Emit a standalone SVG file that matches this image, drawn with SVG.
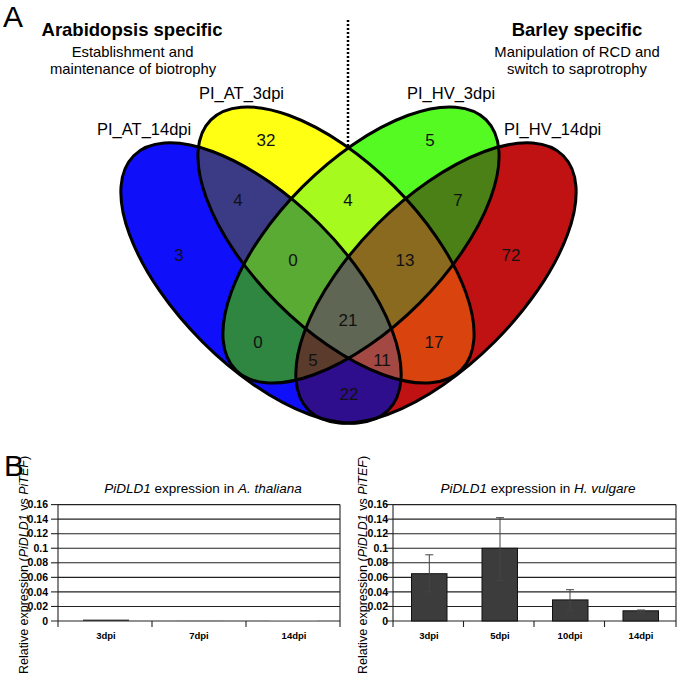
<svg xmlns="http://www.w3.org/2000/svg" xmlns:xlink="http://www.w3.org/1999/xlink" width="678" height="674" viewBox="0 0 678 674">
<style>
text{font-family:"Liberation Sans",Arial,sans-serif;fill:#000}
.big{font-size:30px}
.hd{font-size:18.5px;font-weight:bold;text-anchor:middle}
.sub{font-size:14.8px;text-anchor:middle}
.set{font-size:16.5px}
.num{font-size:17px;text-anchor:middle;fill:#111}
.outline{fill:none;stroke:#000;stroke-width:3}
.grid{stroke:#222;stroke-width:1.1;fill:none}
.ax{stroke:#222;stroke-width:1.1;fill:none}
.yl{font-size:10.5px;font-weight:bold;text-anchor:end}
.xl{font-size:9.5px;font-weight:bold;text-anchor:middle}
.ttl{font-size:13.5px;text-anchor:middle}
.ylab{font-size:12.5px;text-anchor:middle}
.bar{fill:#3c3c3c;stroke:#111;stroke-width:1}
.err{stroke:#444;stroke-width:1;fill:none}
</style>
<defs>
<ellipse id="eB" cx="261" cy="283" rx="180" ry="83" transform="rotate(45 261 283)"/>
<ellipse id="eY" cx="336" cy="245" rx="177" ry="82.5" transform="rotate(45 336 245)"/>
<ellipse id="eG" cx="361" cy="245" rx="177" ry="82.5" transform="rotate(-45 361 245)"/>
<ellipse id="eR" cx="436" cy="283" rx="180" ry="83" transform="rotate(-45 436 283)"/>
<clipPath id="cB"><use xlink:href="#eB"/></clipPath>
<clipPath id="cY"><use xlink:href="#eY"/></clipPath>
<clipPath id="cG"><use xlink:href="#eG"/></clipPath>
<clipPath id="cR"><use xlink:href="#eR"/></clipPath>
</defs>
<rect width="678" height="674" fill="#fff"/>

<g id="panelA-labels">
<text class="big" x="3" y="27">A</text>
<text class="hd" x="132" y="36">Arabidopsis specific</text>
<text class="sub" x="132.5" y="56.5">Establishment and</text>
<text class="sub" x="133" y="74">maintenance of biotrophy</text>
<text class="hd" x="577" y="36">Barley specific</text>
<text class="sub" x="577" y="56.5">Manipulation of RCD and</text>
<text class="sub" x="577" y="74">switch to saprotrophy</text>
<line x1="348" y1="20" x2="348" y2="146" stroke="#000" stroke-width="2.5" stroke-dasharray="2 2"/>
</g>

<g id="venn">
<g id="fills">
<use xlink:href="#eB" fill="#0f0ffa"/>
<use xlink:href="#eR" fill="#c01212"/>
<use xlink:href="#eY" fill="#ffff14"/>
<use xlink:href="#eG" fill="#55fa22"/>
<g clip-path="url(#cB)"><use xlink:href="#eY" fill="#3b3b85"/></g>
<g clip-path="url(#cB)"><use xlink:href="#eG" fill="#2e8640"/></g>
<g clip-path="url(#cB)"><use xlink:href="#eR" fill="#2e0e8c"/></g>
<g clip-path="url(#cY)"><use xlink:href="#eG" fill="#a6fa1e"/></g>
<g clip-path="url(#cY)"><use xlink:href="#eR" fill="#d9440e"/></g>
<g clip-path="url(#cG)"><use xlink:href="#eR" fill="#4a8016"/></g>
<g clip-path="url(#cB)"><g clip-path="url(#cY)"><use xlink:href="#eG" fill="#5aab33"/></g></g>
<g clip-path="url(#cB)"><g clip-path="url(#cY)"><use xlink:href="#eR" fill="#a34843"/></g></g>
<g clip-path="url(#cB)"><g clip-path="url(#cG)"><use xlink:href="#eR" fill="#5a3b2c"/></g></g>
<g clip-path="url(#cY)"><g clip-path="url(#cG)"><use xlink:href="#eR" fill="#8a6a1e"/></g></g>
<g clip-path="url(#cB)"><g clip-path="url(#cY)"><g clip-path="url(#cG)"><use xlink:href="#eR" fill="#5f6653"/></g></g></g>
</g>
<g id="set-PI_AT_14dpi"><use xlink:href="#eB" class="outline"/><text class="set" x="97" y="135">PI_AT_14dpi</text></g>
<g id="set-PI_AT_3dpi"><use xlink:href="#eY" class="outline"/><text class="set" x="199" y="98.5">PI_AT_3dpi</text></g>
<g id="set-PI_HV_3dpi"><use xlink:href="#eG" class="outline"/><text class="set" x="407" y="98.5">PI_HV_3dpi</text></g>
<g id="set-PI_HV_14dpi"><use xlink:href="#eR" class="outline"/><text class="set" x="504" y="135">PI_HV_14dpi</text></g>
<g id="counts">
<text class="num" x="266" y="146">32</text>
<text class="num" x="430" y="146">5</text>
<text class="num" x="238" y="206">4</text>
<text class="num" x="348" y="206">4</text>
<text class="num" x="458" y="206">7</text>
<text class="num" x="179" y="261">3</text>
<text class="num" x="293" y="266">0</text>
<text class="num" x="405" y="266">13</text>
<text class="num" x="511" y="261">72</text>
<text class="num" x="348" y="326">21</text>
<text class="num" x="258" y="348">0</text>
<text class="num" x="434" y="348">17</text>
<text class="num" x="313" y="366">5</text>
<text class="num" x="382" y="366">11</text>
<text class="num" x="349" y="400">22</text>
</g>
</g>

<text class="big" x="4" y="476">B</text>

<g id="chart-athaliana">
<text class="ttl" x="203" y="493"><tspan font-style="italic">PiDLD1</tspan> expression in <tspan font-style="italic">A. thaliana</tspan></text>
<g class="grid">
<line x1="58" y1="504.6" x2="340" y2="504.6"/>
<line x1="58" y1="519.15" x2="340" y2="519.15"/>
<line x1="58" y1="533.7" x2="340" y2="533.7"/>
<line x1="58" y1="548.25" x2="340" y2="548.25"/>
<line x1="58" y1="562.8" x2="340" y2="562.8"/>
<line x1="58" y1="577.35" x2="340" y2="577.35"/>
<line x1="58" y1="591.9" x2="340" y2="591.9"/>
<line x1="58" y1="606.45" x2="340" y2="606.45"/>
<line x1="340" y1="504.6" x2="340" y2="621"/>
</g>
<g class="ax">
<line x1="58" y1="504.6" x2="58" y2="621"/>
<line x1="51" y1="621" x2="340" y2="621"/>
<line x1="51" y1="504.6" x2="58" y2="504.6"/>
<line x1="51" y1="519.15" x2="58" y2="519.15"/>
<line x1="51" y1="533.7" x2="58" y2="533.7"/>
<line x1="51" y1="548.25" x2="58" y2="548.25"/>
<line x1="51" y1="562.8" x2="58" y2="562.8"/>
<line x1="51" y1="577.35" x2="58" y2="577.35"/>
<line x1="51" y1="591.9" x2="58" y2="591.9"/>
<line x1="51" y1="606.45" x2="58" y2="606.45"/>
<line x1="58" y1="621" x2="58" y2="627"/>
<line x1="152" y1="621" x2="152" y2="627"/>
<line x1="246" y1="621" x2="246" y2="627"/>
<line x1="340" y1="621" x2="340" y2="627"/>
</g>
<rect x="83" y="619.6" width="46" height="1.4" fill="#333"/>
<rect x="177" y="620" width="46" height="1" fill="#888"/>
<rect x="270" y="620.3" width="47" height="0.7" fill="#aaa"/>
<text class="yl" x="48" y="508.3">0.16</text>
<text class="yl" x="48" y="522.8">0.14</text>
<text class="yl" x="48" y="537.3">0.12</text>
<text class="yl" x="48" y="551.9">0.1</text>
<text class="yl" x="48" y="566.4">0.08</text>
<text class="yl" x="48" y="581">0.06</text>
<text class="yl" x="48" y="595.5">0.04</text>
<text class="yl" x="48" y="610.1">0.02</text>
<text class="yl" x="48" y="624.6">0</text>
<text class="xl" x="106" y="639">3dpi</text>
<text class="xl" x="199" y="639">7dpi</text>
<text class="xl" x="294" y="639">14dpi</text>
<text class="ylab" transform="translate(28 565) rotate(-90)">Relative expression (<tspan font-style="italic">PiDLD1</tspan> vs <tspan font-style="italic">PiTEF</tspan>)</text>
</g>

<g id="chart-hvulgare">
<text class="ttl" x="538" y="493"><tspan font-style="italic">PiDLD1</tspan> expression in <tspan font-style="italic">H. vulgare</tspan></text>
<g class="grid">
<line x1="393" y1="504.6" x2="676" y2="504.6"/>
<line x1="393" y1="519.15" x2="676" y2="519.15"/>
<line x1="393" y1="533.7" x2="676" y2="533.7"/>
<line x1="393" y1="548.25" x2="676" y2="548.25"/>
<line x1="393" y1="562.8" x2="676" y2="562.8"/>
<line x1="393" y1="577.35" x2="676" y2="577.35"/>
<line x1="393" y1="591.9" x2="676" y2="591.9"/>
<line x1="393" y1="606.45" x2="676" y2="606.45"/>
<line x1="676" y1="504.6" x2="676" y2="621"/>
</g>
<g class="ax">
<line x1="393" y1="504.6" x2="393" y2="621"/>
<line x1="386" y1="621" x2="676" y2="621"/>
<line x1="386" y1="504.6" x2="393" y2="504.6"/>
<line x1="386" y1="519.15" x2="393" y2="519.15"/>
<line x1="386" y1="533.7" x2="393" y2="533.7"/>
<line x1="386" y1="548.25" x2="393" y2="548.25"/>
<line x1="386" y1="562.8" x2="393" y2="562.8"/>
<line x1="386" y1="577.35" x2="393" y2="577.35"/>
<line x1="386" y1="591.9" x2="393" y2="591.9"/>
<line x1="386" y1="606.45" x2="393" y2="606.45"/>
<line x1="393" y1="621" x2="393" y2="627"/>
<line x1="463.5" y1="621" x2="463.5" y2="627"/>
<line x1="534" y1="621" x2="534" y2="627"/>
<line x1="604.5" y1="621" x2="604.5" y2="627"/>
<line x1="676" y1="621" x2="676" y2="627"/>
</g>
<rect class="bar" x="411.5" y="573.7" width="35.5" height="47.3"/>
<rect class="bar" x="482" y="548.25" width="35.5" height="72.75"/>
<rect class="bar" x="552.5" y="599.9" width="35.5" height="21.1"/>
<rect class="bar" x="623" y="610.8" width="35.5" height="10.2"/>
<g class="err">
<line x1="429.3" y1="554.8" x2="429.3" y2="591.9"/><line x1="425.3" y1="554.8" x2="433.3" y2="554.8"/><line x1="425.3" y1="591.9" x2="433.3" y2="591.9"/>
<line x1="500" y1="517.7" x2="500" y2="580.3"/><line x1="496" y1="517.7" x2="504" y2="517.7"/><line x1="496" y1="580.3" x2="504" y2="580.3"/>
<line x1="570" y1="589.7" x2="570" y2="610.8"/><line x1="566" y1="589.7" x2="574" y2="589.7"/><line x1="566" y1="610.8" x2="574" y2="610.8"/>
<line x1="641" y1="610" x2="641" y2="612"/><line x1="637" y1="610" x2="645" y2="610"/><line x1="637" y1="612" x2="645" y2="612"/>
</g>
<text class="yl" x="388" y="508.3">0.16</text>
<text class="yl" x="388" y="522.8">0.14</text>
<text class="yl" x="388" y="537.3">0.12</text>
<text class="yl" x="388" y="551.9">0.1</text>
<text class="yl" x="388" y="566.4">0.08</text>
<text class="yl" x="388" y="581">0.06</text>
<text class="yl" x="388" y="595.5">0.04</text>
<text class="yl" x="388" y="610.1">0.02</text>
<text class="yl" x="388" y="624.6">0</text>
<text class="xl" x="429" y="639">3dpi</text>
<text class="xl" x="500" y="639">5dpi</text>
<text class="xl" x="570" y="639">10dpi</text>
<text class="xl" x="641" y="639">14dpi</text>
<text class="ylab" transform="translate(367 565) rotate(-90)">Relative expression (<tspan font-style="italic">PiDLD1</tspan> vs <tspan font-style="italic">PiTEF</tspan>)</text>
</g>
</svg>
